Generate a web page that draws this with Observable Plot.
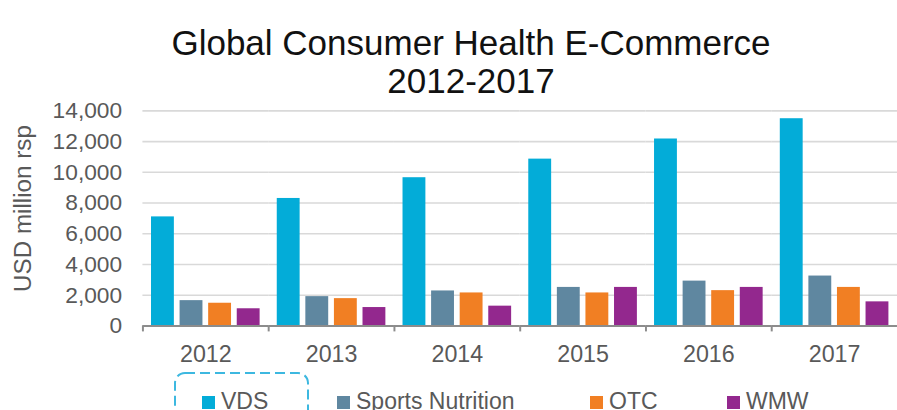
<!DOCTYPE html>
<html>
<head>
<meta charset="utf-8">
<script src="https://cdn.jsdelivr.net/npm/d3@7"></script>
<script src="https://cdn.jsdelivr.net/npm/@observablehq/plot@0.6"></script>
<style>
  html, body { margin: 0; padding: 0; overflow: hidden; background: #fff; width: 897px; height: 410px; }
  body { font-family: "Liberation Sans", Arial, sans-serif; position: relative; }
  #title { box-sizing: border-box; width: 897px; height: 100px; padding: 24px 0 0 45px; text-align: center;
           font-size: 35px; line-height: 38px; color: #111; }
  #chart svg { display: block; overflow: visible; }
  #legend { position: relative; width: 897px; height: 36px; color: #595959; font-size: 23px; line-height: 23px; }
  #legend .item { position: absolute; top: 19px; white-space: nowrap; }
  #legend .sw { display: inline-block; width: 13px; height: 13px; margin-right: 6px; vertical-align: baseline; }
  #legend svg.box { position: absolute; left: 174px; top: 1px; overflow: visible; }
</style>
</head>
<body>
<div id="title">Global Consumer Health E-Commerce<br>2012-2017</div>
<div id="chart"></div>
<div id="legend"></div>
<script>
// ---- data ----
const years = ["2012", "2013", "2014", "2015", "2016", "2017"];
const series = ["VDS", "Sports Nutrition", "OTC", "WMW"];
const vds = [7100, 8300, 9650, 10860, 12170, 13490];
const sportsNutrition = [1650, 1910, 2280, 2510, 2920, 3250];
const otc = [1480, 1780, 2150, 2150, 2300, 2510];
const wmw = [1120, 1200, 1290, 2510, 2510, 1570];
const yTicks = [0, 2000, 4000, 6000, 8000, 10000, 12000, 14000];
const yLabel = "USD million rsp";

// ---- styles ----
const colors = ["#03acd8", "#5f87a0", "#f17f23", "#93288e"];
const legendLeft = [202, 337, 590, 727];

const valuesBySeries = [vds, sportsNutrition, otc, wmw];
const data = [];
years.forEach((yr, i) => series.forEach((s, j) => data.push({year: yr, series: s, value: valuesBySeries[j][i]})));

const width = 907, marginLeft = 144, marginRight = 0;
const fxStep = (width - marginLeft - marginRight) / years.length;
const axisColor = "#595959";

const chart = Plot.plot({
  width,
  height: 274,
  marginTop: 10.5,
  marginBottom: 46,
  marginLeft,
  marginRight,
  style: {fontFamily: '"Liberation Sans", Arial, sans-serif', color: axisColor, background: "transparent"},
  fx: {domain: years, padding: 0, round: false, label: null},
  x: {domain: series, paddingInner: 0.2, paddingOuter: 0.3, round: false, axis: null},
  y: {domain: [0, 14000], ticks: yTicks, nice: false, label: null},
  color: {domain: series, range: colors},
  marks: [
    Plot.gridY(yTicks.slice(1), {stroke: "#d9d9d9", strokeOpacity: 1, strokeWidth: 1.6}),
    Plot.barY(data, {fx: "year", x: "series", y: "value", fill: "series"}),
    Plot.ruleY([0], {stroke: "#8c8c8c", strokeWidth: 2}),
    Plot.axisY(yTicks, {tickSize: 0, tickPadding: 21, fontSize: 23, fill: axisColor, label: null,
      tickFormat: d3.format(",")}),
    Plot.text([{year: years[0]}], {fx: "year", text: () => yLabel, frameAnchor: "left", textAnchor: "middle",
      rotate: -90, dx: -121, dy: -10, fontSize: 24.5, fill: axisColor}),
    Plot.axisFx({anchor: "bottom", tickSize: 0, tickPadding: 20, fontSize: 23.5, fill: axisColor, label: null}),
    Plot.axisFx({anchor: "bottom", tickSize: 6, tickFormat: () => "", stroke: "#8c8c8c", strokeWidth: 2, dx: -fxStep / 2, label: null})
  ]
});
document.getElementById("chart").appendChild(chart);

// ---- legend ----
const legend = d3.select("#legend");
const box = legend.append("svg").attr("class", "box").attr("width", 136).attr("height", 60);
box.append("rect").attr("x", 1).attr("y", 1).attr("width", 133).attr("height", 60).attr("rx", 10)
  .attr("fill", "none").attr("stroke", "#3db8e0").attr("stroke-width", 2).attr("stroke-dasharray", "10 5");
series.forEach((s, i) => {
  const item = legend.append("div").attr("class", "item").style("left", legendLeft[i] + "px");
  item.append("span").attr("class", "sw").style("background", colors[i]);
  item.append("span").text(s);
});
</script>
</body>
</html>
